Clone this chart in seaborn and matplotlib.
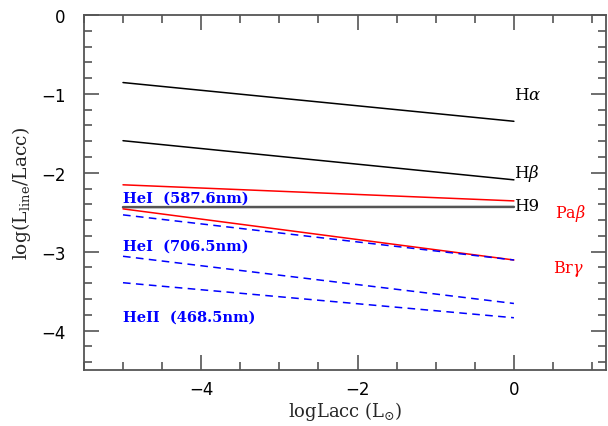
import matplotlib
matplotlib.use('Agg')
import matplotlib.pyplot as plt
import seaborn as sns
import pandas as pd
from matplotlib.ticker import MultipleLocator

# ---------------------------------------------------------------------
# data: log(Lline/Lacc) at logLacc = -5 and 0
# ---------------------------------------------------------------------
log_lacc = [-5.0, 0.0]
line_names = ['Halpha', 'Hbeta', 'H9', 'Pabeta', 'Brgamma',
              'HeI 587.6', 'HeI 706.5', 'HeII 468.5']
start_vals = [-0.856, -1.593, -2.435, -2.152, -2.457, -2.533, -3.058, -3.393]
end_vals = [-1.347, -2.089, -2.432, -2.356, -3.105, -3.105, -3.656, -3.837]

sns.set_theme(style='ticks')
plt.rcParams['font.family'] = ['DejaVu Serif', 'DejaVu Sans']
plt.rcParams['mathtext.fontset'] = 'dejavuserif'

fig = plt.figure(figsize=(6.08, 4.27), dpi=100)
ax = fig.add_axes([0.138, 0.131, 0.859, 0.8315])

# style per line
colors = {'Halpha': 'black', 'Hbeta': 'black', 'H9': '#555555',
          'Pabeta': 'red', 'Brgamma': 'red',
          'HeI 587.6': 'blue', 'HeI 706.5': 'blue', 'HeII 468.5': 'blue'}
widths = {'H9': 1.8}

for name, y0, y1 in zip(line_names, start_vals, end_vals):
    df = pd.DataFrame({'x': log_lacc, 'y': [y0, y1]})
    dashed = name.startswith('He')
    sns.lineplot(data=df, x='x', y='y', ax=ax, color=colors[name],
                 linewidth=widths.get(name, 1.1),
                 linestyle=(0, (5, 3.5)) if dashed else '-')

# line labels
ax.text(0.0, -1.01, r'H$\alpha$', fontsize=12, color='black', va='center')
ax.text(0.0, -1.99, r'H$\beta$', fontsize=12, color='black', va='center')
ax.text(0.0, -2.41, 'H9', fontsize=12, color='black', va='center')
ax.text(0.52, -2.50, r'Pa$\beta$', fontsize=11.5, color='red', va='center')
ax.text(0.50, -3.21, r'Br$\gamma$', fontsize=11.5, color='red', va='center')
ax.text(-5.0, -2.31, 'HeI  (587.6nm)', fontsize=10.5, color='blue',
        fontweight='bold', va='center')
ax.text(-5.0, -2.92, 'HeI  (706.5nm)', fontsize=10.5, color='blue',
        fontweight='bold', va='center')
ax.text(-5.0, -3.82, 'HeII  (468.5nm)', fontsize=10.5, color='blue',
        fontweight='bold', va='center')

ax.set_xlim(-5.5, 1.18)
ax.set_ylim(-4.5, 0)
ax.xaxis.set_major_locator(MultipleLocator(2))
ax.xaxis.set_minor_locator(MultipleLocator(0.5))
ax.yaxis.set_major_locator(MultipleLocator(1))
ax.yaxis.set_minor_locator(MultipleLocator(0.2))
ax.tick_params(which='both', direction='in', top=True, right=True,
               color='#555555', width=1.2, labelcolor='black')
ax.tick_params(which='major', length=11, labelsize=12)
ax.tick_params(axis='x', which='major', pad=7)
ax.tick_params(axis='y', which='major', pad=13)
ax.tick_params(which='minor', length=6)
for lab in ax.get_xticklabels() + ax.get_yticklabels():
    lab.set_family('DejaVu Sans')
for sp in ax.spines.values():
    sp.set_color('#555555')
    sp.set_linewidth(1.3)

ax.set_xlabel(r'logLacc (L$_{\odot}$)', fontsize=13, labelpad=1)
ax.set_ylabel(r'log(L$_{\rm line}$/Lacc)', fontsize=13.5, labelpad=6)

fig.savefig('out.png', dpi=100)
